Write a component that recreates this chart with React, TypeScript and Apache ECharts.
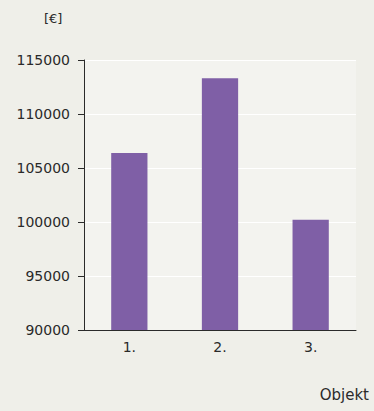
import React, { useEffect, useRef } from "react";
import * as echarts from "echarts";

const categories = ["1.", "2.", "3."];
const values = [106400, 113300, 100200];
const yTicks = [90000, 95000, 100000, 105000, 110000, 115000];

export default function App() {
  const ref = useRef<HTMLDivElement>(null);
  useEffect(() => {
    const chart = echarts.init(ref.current!, undefined, { renderer: "svg" });
    const font = "DejaVu Sans, Verdana, sans-serif";
    chart.setOption({
      animation: false,
      backgroundColor: "#efefe9",
      grid: {
        left: 84,
        right: 18,
        top: 60,
        bottom: 81,
        show: true,
        backgroundColor: "#f3f3ef",
        borderWidth: 0,
      },
      xAxis: {
        type: "category",
        data: categories,
        axisLine: { show: true, lineStyle: { color: "#2a2a2a", width: 1 } },
        axisTick: { show: false },
        axisLabel: { color: "#2a2a2a", fontFamily: font, fontSize: 14, margin: 10 },
      },
      yAxis: {
        type: "value",
        min: yTicks[0],
        max: yTicks[yTicks.length - 1],
        interval: 5000,
        axisLine: { show: true, lineStyle: { color: "#2a2a2a", width: 1 } },
        axisTick: { show: true, length: 6, lineStyle: { color: "#2a2a2a" } },
        axisLabel: {
          color: "#2a2a2a",
          fontFamily: font,
          fontSize: 14,
          margin: 14,
          formatter: (v: number) => String(v),
        },
        splitLine: { show: true, lineStyle: { color: "#ffffff", width: 1 } },
      },
      series: [
        {
          type: "bar",
          data: values,
          barWidth: "40%",
          itemStyle: { color: "#7f5fa6" },
        },
      ],
      graphic: [
        {
          type: "text",
          left: 44,
          top: 12,
          style: { text: "[€]", fill: "#2a2a2a", font: `13px ${font}` },
        },
        {
          type: "text",
          right: 5,
          top: 387,
          style: { text: "Objekt", fill: "#2a2a2a", font: `15px ${font}` },
        },
      ],
    });
    return () => chart.dispose();
  }, []);
  return <div ref={ref} style={{ width: 374, height: 411, position: "absolute", left: 0, top: 0 }} />;
}
